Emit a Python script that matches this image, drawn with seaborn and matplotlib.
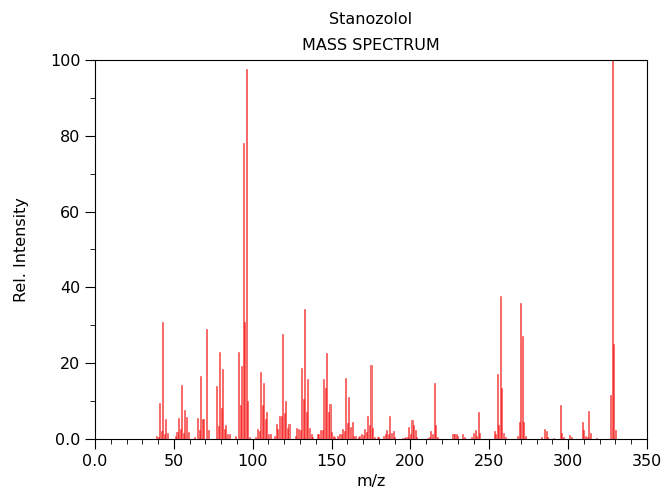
import numpy as np
import pandas as pd
import matplotlib
matplotlib.use("Agg")
import matplotlib.pyplot as plt
import seaborn as sns
from matplotlib.ticker import MultipleLocator, FixedLocator

# peaks (m/z, relative intensity)
mz = [39, 40, 41, 42, 43, 44, 45, 46, 51, 52, 53, 54, 55, 56, 57, 58, 59,
      63, 65, 66, 67, 68, 69, 71, 72, 77, 78, 79, 80, 81, 82, 83, 84, 85,
      89, 91, 92, 93, 94, 95, 96, 97, 98, 102, 103, 104, 105, 106, 107, 108,
      109, 110, 111, 114, 115, 116, 117, 118, 119, 120, 121, 122, 123,
      127, 128, 129, 130, 131, 132, 133, 134, 135, 136, 137, 138,
      141, 142, 143, 144, 145, 146, 147, 148, 149, 150, 151, 152,
      154, 155, 156, 157, 158, 159, 160, 161, 162, 163, 164, 165,
      167, 168, 169, 170, 171, 172, 173, 174, 175, 176, 177, 179, 180,
      183, 184, 185, 186, 187, 188, 189, 190, 195, 196, 197, 198, 199, 200,
      201, 202, 203, 204, 211, 212, 213, 214, 215, 216, 217,
      227, 228, 229, 230, 233, 234, 239, 240, 241, 242, 243, 244,
      253, 254, 255, 256, 257, 258, 259, 260, 268, 269, 270, 271, 272, 273,
      283, 285, 286, 287, 291, 295, 296, 297, 301, 302,
      309, 310, 311, 312, 313, 314, 318, 327, 328, 329, 330]
intensity = [0.9, 0.5, 9.6, 2.0, 30.8, 1.2, 5.2, 1.7, 0.9, 1.8, 5.6, 2.6, 14.2, 1.6, 7.6, 5.7, 1.8,
             0.5, 5.5, 2.3, 16.6, 5.4, 5.4, 28.9, 2.4, 14.0, 3.4, 22.9, 8.3, 18.5, 2.7, 3.8, 1.3, 1.3,
             0.8, 23.0, 9.0, 19.3, 78.0, 31.0, 97.5, 9.9, 0.6, 0.4, 2.7, 2.2, 17.7, 9.0, 14.8, 5.2,
             7.0, 1.2, 1.2, 0.8, 3.9, 2.6, 6.0, 6.1, 27.6, 6.8, 9.9, 2.8, 3.9,
             0.8, 2.8, 2.7, 2.4, 18.8, 10.5, 34.2, 7.0, 15.7, 2.8, 1.3, 0.6,
             1.2, 1.3, 2.5, 2.3, 15.7, 13.4, 22.6, 7.0, 9.2, 1.8, 0.9, 0.6,
             0.9, 1.2, 1.3, 2.7, 2.0, 16.0, 4.1, 11.0, 3.2, 4.4, 0.9, 0.9,
             0.6, 0.9, 1.2, 1.1, 2.7, 1.9, 6.1, 3.7, 19.4, 2.8, 0.6, 0.4, 0.4,
             0.9, 1.2, 2.5, 1.2, 6.1, 1.5, 2.2, 0.4, 0.3, 0.3, 0.4, 0.4, 3.1, 1.3,
             5.0, 3.7, 2.3, 0.4, 0.3, 0.6, 2.0, 1.2, 14.9, 3.6, 0.6,
             1.4, 1.2, 1.2, 0.9, 1.4, 0.6, 0.6, 1.7, 2.5, 0.9, 7.0, 1.6,
             2.2, 1.2, 17.2, 3.7, 37.6, 13.5, 1.6, 0.4, 0.9, 4.4, 35.8, 27.3, 4.4, 0.9,
             0.4, 2.6, 2.0, 0.5, 0.3, 8.9, 1.7, 0.4, 1.1, 0.4,
             4.4, 2.4, 0.9, 0.5, 7.4, 1.5, 0.3, 11.7, 100.0, 25.0, 2.4]

df = pd.DataFrame({'mz': mz, 'intensity': intensity})

fig = plt.figure(figsize=(6.64, 4.9), dpi=100)
ax = fig.add_axes([95 / 664, 1 - 439 / 490, 552 / 664, 379 / 490])

sns.barplot(data=df, x='mz', y='intensity', native_scale=True, width=0.65,
            errorbar=None, color='red', alpha=0.6, edgecolor='red',
            linewidth=0.5, ax=ax)

ax.set_xlim(0, 350)
ax.set_ylim(0, 100)
ax.xaxis.set_major_locator(FixedLocator([0, 50, 100, 150, 200, 250, 300, 350]))
ax.set_xticklabels(['0.0', '50', '100', '150', '200', '250', '300', '350'])
ax.xaxis.set_minor_locator(MultipleLocator(10))
ax.yaxis.set_major_locator(FixedLocator([0, 20, 40, 60, 80, 100]))
ax.set_yticklabels(['0.0', '20', '40', '60', '80', '100'])
ax.yaxis.set_minor_locator(MultipleLocator(10))
ax.tick_params(which='major', direction='out', length=7, labelsize=11.5)
ax.tick_params(which='minor', direction='out', length=3.5)

ax.set_xlabel('m/z', fontsize=11.5)
ax.set_ylabel('Rel. Intensity', fontsize=11.5, labelpad=15)

fig.text(371 / 664, 1 - 20 / 490, 'Stanozolol', ha='center', va='center', fontsize=11.5)
fig.text(371 / 664, 1 - 45 / 490, 'MASS SPECTRUM', ha='center', va='center', fontsize=11.5)

fig.savefig('out.png', dpi=100)
